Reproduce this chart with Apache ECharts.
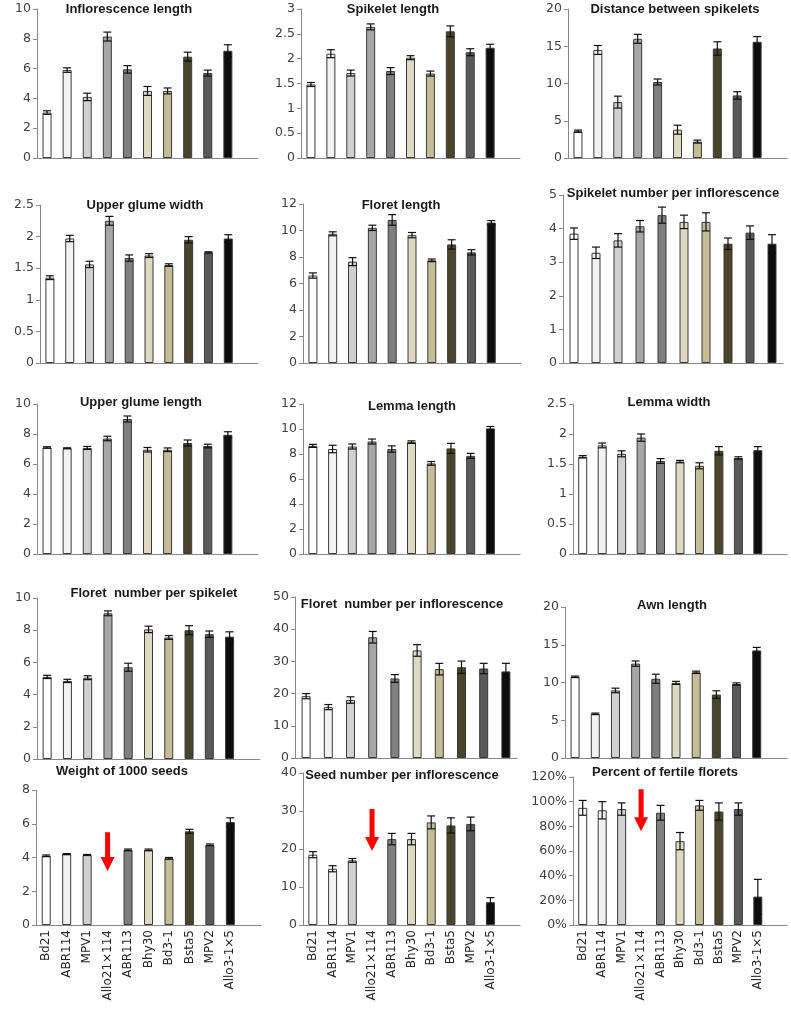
<!DOCTYPE html>
<html>
<head>
    <meta charset="utf-8">
    <title>Spikelet traits</title>
    <script src="https://cdn.jsdelivr.net/npm/echarts@6.0.0/dist/echarts.min.js"></script>
    <style>
        html, body { margin: 0; padding: 0; background: #ffffff; }
        #main { width: 791px; height: 1020px; }
    </style>
</head>
<body>
<div id="main"></div>
<script>
    // accessions, same order in every panel
    var categories = ['Bd21', 'ABR114', 'MPV1', 'Allo21×114', 'ABR113', 'Bhy30', 'Bd3-1', 'Bsta5', 'MPV2', 'Allo3-1×5'];
    var barColors = ['#ffffff', '#f2f2f2', '#d0d0d0', '#a6a6a6', '#7f7f7f', '#ddd9c3', '#c4bd97', '#4a452a', '#595959', '#0d0d0d'];

    // means and error bars
    var inflorescenceLength = [3.05, 5.9, 4.1, 8.15, 5.95, 4.5, 4.5, 6.8, 5.7, 7.2];
    var inflorescenceLengthErr = [0.12, 0.15, 0.25, 0.3, 0.25, 0.3, 0.2, 0.3, 0.2, 0.4];
    var spikeletLength = [1.48, 2.1, 1.71, 2.64, 1.75, 2.02, 1.7, 2.55, 2.13, 2.22];
    var spikeletLengthErr = [0.04, 0.08, 0.06, 0.06, 0.07, 0.04, 0.05, 0.11, 0.07, 0.07];
    var spikeletDistance = [3.6, 14.5, 7.5, 16.0, 10.2, 3.8, 2.2, 14.7, 8.4, 15.6];
    var spikeletDistanceErr = [0.15, 0.6, 0.8, 0.6, 0.4, 0.6, 0.2, 0.9, 0.5, 0.7];

    var upperGlumeWidth = [1.35, 1.97, 1.56, 2.25, 1.66, 1.7, 1.55, 1.95, 1.75, 1.97];
    var upperGlumeWidthErr = [0.03, 0.05, 0.05, 0.07, 0.05, 0.03, 0.02, 0.05, 0.01, 0.06];
    var floretLength = [6.6, 9.75, 7.65, 10.2, 10.8, 9.65, 7.75, 8.95, 8.35, 10.6];
    var floretLengthErr = [0.2, 0.15, 0.3, 0.2, 0.4, 0.2, 0.1, 0.35, 0.2, 0.15];
    var spikeletNumber = [3.85, 3.28, 3.65, 4.07, 4.4, 4.2, 4.2, 3.55, 3.88, 3.55];
    var spikeletNumberErr = [0.17, 0.17, 0.2, 0.17, 0.24, 0.2, 0.27, 0.17, 0.2, 0.27];

    var upperGlumeLength = [7.1, 7.05, 7.07, 7.7, 9.0, 6.95, 6.95, 7.4, 7.2, 7.95];
    var upperGlumeLengthErr = [0.05, 0.03, 0.1, 0.15, 0.2, 0.15, 0.12, 0.2, 0.12, 0.2];
    var lemmaLength = [8.65, 8.4, 8.6, 9.0, 8.4, 8.95, 7.25, 8.45, 7.85, 10.05];
    var lemmaLengthErr = [0.12, 0.3, 0.2, 0.2, 0.25, 0.1, 0.15, 0.4, 0.2, 0.15];
    var lemmaWidth = [1.62, 1.81, 1.67, 1.94, 1.55, 1.54, 1.47, 1.72, 1.6, 1.73];
    var lemmaWidthErr = [0.02, 0.04, 0.05, 0.06, 0.04, 0.02, 0.05, 0.07, 0.02, 0.06];

    var floretsPerSpikelet = [5.1, 4.85, 5.05, 9.05, 5.7, 8.05, 7.55, 8.0, 7.75, 7.6];
    var floretsPerSpikeletErr = [0.1, 0.1, 0.12, 0.15, 0.25, 0.2, 0.12, 0.28, 0.2, 0.3];
    var floretsPerInflorescence = [19.2, 15.8, 18.0, 37.5, 24.7, 33.4, 27.6, 28.2, 27.8, 26.9];
    var floretsPerInflorescenceErr = [0.8, 0.8, 1.0, 1.8, 1.2, 1.8, 1.8, 1.9, 1.6, 2.5];
    var awnLength = [10.75, 5.85, 8.95, 12.5, 10.5, 9.95, 11.35, 8.4, 9.8, 14.25];
    var awnLengthErr = [0.1, 0.1, 0.3, 0.35, 0.6, 0.2, 0.15, 0.5, 0.15, 0.4];

    // the hybrid Allo21×114 set no seed, so those three panels have a gap
    var seedWeight = [4.1, 4.2, 4.15, null, 4.45, 4.45, 3.95, 5.55, 4.75, 6.1];
    var seedWeightErr = [0.05, 0.03, 0.03, null, 0.05, 0.05, 0.05, 0.12, 0.05, 0.25];
    var seedNumber = [18.5, 14.8, 17.0, null, 22.6, 22.6, 27.0, 26.2, 26.6, 6.0];
    var seedNumberErr = [0.8, 0.8, 0.5, null, 1.5, 1.5, 1.7, 2.0, 1.8, 1.2];
    var fertileFlorets = [95, 93, 94, null, 91, 68, 97, 92, 94, 23];
    var fertileFloretsErr = [6, 7, 5, null, 6, 7, 4, 7, 5, 14];

    // red arrows: [category index, top of arrow, tip of arrow] in axis units
    var seedWeightArrow = [3, 5.5, 3.2];
    var seedNumberArrow = [3, 30.5, 19.5];
    var fertileArrow = [3, 110, 76];

    var panels = [
        {title: 'Inflorescence length', values: inflorescenceLength, err: inflorescenceLengthErr, max: 10, interval: 2},
        {title: 'Spikelet length', values: spikeletLength, err: spikeletLengthErr, max: 3, interval: 0.5},
        {title: 'Distance between spikelets', values: spikeletDistance, err: spikeletDistanceErr, max: 20, interval: 5},
        {title: 'Upper glume width', values: upperGlumeWidth, err: upperGlumeWidthErr, max: 2.5, interval: 0.5},
        {title: 'Floret length', values: floretLength, err: floretLengthErr, max: 12, interval: 2},
        {title: 'Spikelet number per inflorescence', values: spikeletNumber, err: spikeletNumberErr, max: 5, interval: 1},
        {title: 'Upper glume length', values: upperGlumeLength, err: upperGlumeLengthErr, max: 10, interval: 2},
        {title: 'Lemma length', values: lemmaLength, err: lemmaLengthErr, max: 12, interval: 2},
        {title: 'Lemma width', values: lemmaWidth, err: lemmaWidthErr, max: 2.5, interval: 0.5},
        {title: 'Floret  number per spikelet', values: floretsPerSpikelet, err: floretsPerSpikeletErr, max: 10, interval: 2},
        {title: 'Floret  number per inflorescence', values: floretsPerInflorescence, err: floretsPerInflorescenceErr, max: 50, interval: 10},
        {title: 'Awn length', values: awnLength, err: awnLengthErr, max: 20, interval: 5},
        {title: 'Weight of 1000 seeds', values: seedWeight, err: seedWeightErr, max: 8, interval: 2, arrow: seedWeightArrow},
        {title: 'Seed number per inflorescence', values: seedNumber, err: seedNumberErr, max: 40, interval: 10, arrow: seedNumberArrow},
        {title: 'Percent of fertile florets', values: fertileFlorets, err: fertileFloretsErr, max: 120, interval: 20, arrow: fertileArrow, percent: true}
    ];

    // layout: [left, top, width, height, slots] of each plot, and title centre [x, y]
    var boxes = [
        [37, 9, 221, 149, 11], [301, 9, 219, 149, 11], [568, 9, 219, 149, 11],
        [40, 205, 218, 158, 11], [303, 204, 218, 159, 11], [563, 195, 220, 168, 10],
        [37, 404, 221, 150, 11], [303, 404, 217, 150, 11], [573, 404, 214, 150, 11],
        [37, 598, 223, 161, 11], [295, 597, 222, 161, 10], [565, 607, 222, 151, 11],
        [36, 790, 225, 135, 11], [303, 773, 217, 152, 11], [573, 777, 214, 148, 11]
    ];
    var titleSpots = [
        [129, 9], [393, 9], [675, 9],
        [145, 205], [401, 205], [673, 193],
        [141, 402], [412, 406], [669, 402],
        [154, 593], [402, 604], [672, 605],
        [122, 771], [402, 775], [665, 772]
    ];

    var chart = echarts.init(document.getElementById('main'), null, {renderer: 'canvas'});

    function errorBars(params, api) {
        var x = api.value(0), v = api.value(1), e = api.value(2);
        var hi = api.coord([x, v + e]);
        var lo = api.coord([x, v - e]);
        var st = {stroke: '#111111', lineWidth: 1.2};
        return {
            type: 'group',
            children: [
                {type: 'line', shape: {x1: hi[0], y1: hi[1], x2: lo[0], y2: lo[1]}, style: st},
                {type: 'line', shape: {x1: hi[0] - 4, y1: hi[1], x2: hi[0] + 4, y2: hi[1]}, style: st},
                {type: 'line', shape: {x1: lo[0] - 4, y1: lo[1], x2: lo[0] + 4, y2: lo[1]}, style: st}
            ]
        };
    }

    function redArrow(params, api) {
        var top = api.coord([api.value(0), api.value(1)]);
        var tip = api.coord([api.value(0), api.value(2)]);
        var x = top[0], head = tip[1] - 14;
        return {
            type: 'polygon',
            shape: {points: [[x - 2.5, top[1]], [x + 2.5, top[1]], [x + 2.5, head], [x + 7, head],
                [x, tip[1]], [x - 7, head], [x - 2.5, head]]},
            style: {fill: '#ff0000'}
        };
    }

    var option = {
        animation: false,
        backgroundColor: '#ffffff',
        grid: [], xAxis: [], yAxis: [], series: [], graphic: []
    };

    panels.forEach(function (p, i) {
        var b = boxes[i];
        var bottomRow = i >= 12;
        var cats = categories.slice();
        if (b[4] > 10) cats.push('');

        option.grid.push({left: b[0], top: b[1], width: b[2], height: b[3]});
        option.xAxis.push({
            type: 'category', gridIndex: i, data: cats,
            axisLine: {lineStyle: {color: '#888888', width: 1}},
            axisTick: {show: false},
            axisLabel: {
                show: bottomRow, interval: 0, rotate: 90, margin: 5,
                fontFamily: 'DejaVu Sans', fontSize: 12, color: '#262626'
            }
        });
        option.yAxis.push({
            type: 'value', gridIndex: i, min: 0, max: p.max, interval: p.interval,
            splitLine: {show: false},
            axisLine: {show: true, lineStyle: {color: '#888888', width: 1}},
            axisTick: {show: true, length: 4, lineStyle: {color: '#888888'}},
            axisLabel: {
                margin: 6, fontFamily: 'DejaVu Sans', fontSize: 12.5, color: '#404040',
                formatter: p.percent ? '{value}%' : '{value}'
            }
        });
        option.series.push({
            type: 'bar', xAxisIndex: i, yAxisIndex: i, barWidth: 9,
            itemStyle: {borderColor: '#3a3a3a', borderWidth: 1},
            data: p.values.map(function (v, k) {
                return {value: v, itemStyle: {color: barColors[k]}};
            })
        });
        var eb = [];
        p.values.forEach(function (v, k) {
            if (v !== null) eb.push([k, v, p.err[k]]);
        });
        option.series.push({
            type: 'custom', xAxisIndex: i, yAxisIndex: i, z: 5,
            renderItem: errorBars, encode: {x: 0, y: 1}, data: eb
        });
        if (p.arrow) {
            option.series.push({
                type: 'custom', xAxisIndex: i, yAxisIndex: i, z: 6,
                renderItem: redArrow, encode: {x: 0, y: [1, 2]}, data: [p.arrow]
            });
        }
        option.graphic.push({
            type: 'text', x: titleSpots[i][0], y: titleSpots[i][1], z: 10,
            style: {
                text: p.title, fill: '#1a1a1a',
                font: 'bold 13px "Liberation Sans", Arial, sans-serif',
                align: 'center', verticalAlign: 'middle',
                textAlign: 'center', textVerticalAlign: 'middle'
            }
        });
    });

    chart.setOption(option);
</script>
</body>
</html>
